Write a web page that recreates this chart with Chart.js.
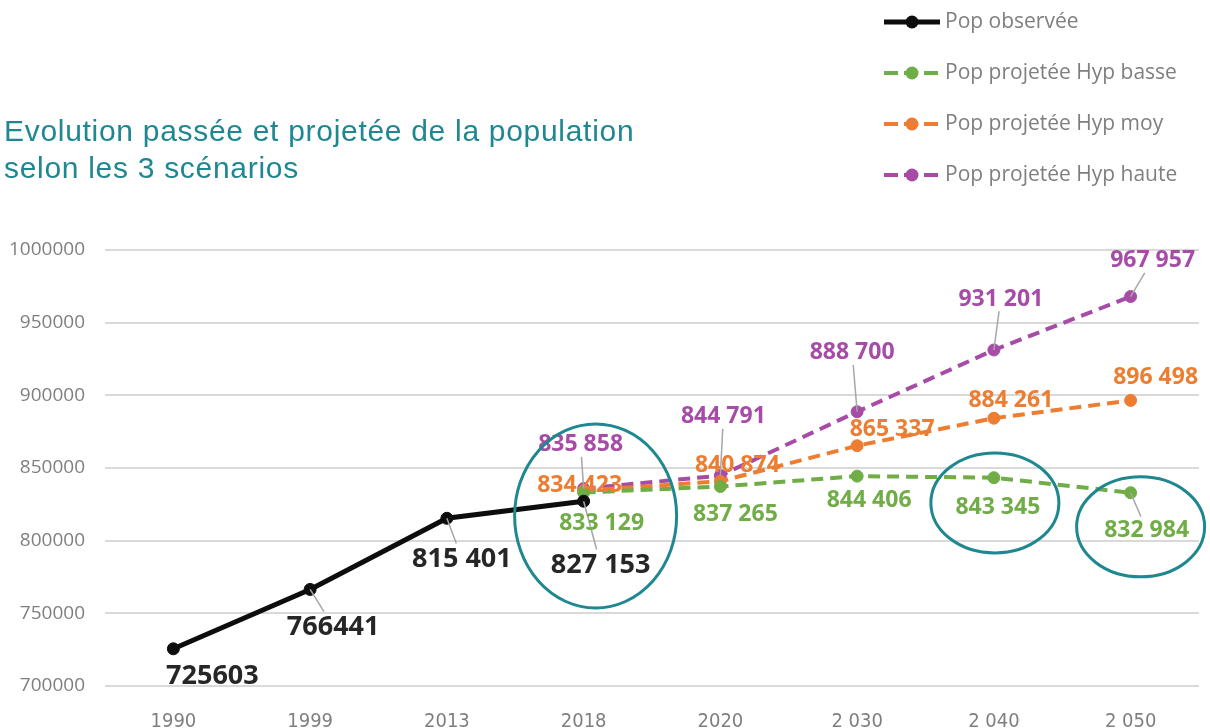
<!DOCTYPE html>
<html lang="fr">
<head>
<meta charset="utf-8">
<script src="https://cdn.jsdelivr.net/npm/chart.js@4.4.0/dist/chart.umd.min.js"></script>
<style>
  html, body { margin: 0; padding: 0; background: #fff; overflow: hidden; }
  #cadre { width: 1210px; height: 728px; }
</style>
</head>
<body>
<div id="cadre"><canvas id="graf-pop" width="1210" height="728"></canvas></div>
<script>
// données
const annees = ["1990", "1999", "2013", "2018", "2020", "2 030", "2 040", "2 050"];
const popObservee = [725603, 766441, 815401, 827153, null, null, null, null];
const popBasse = [null, null, null, 833129, 837265, 844406, 843345, 832984];
const popMoy = [null, null, null, 834423, 840874, 865337, 884261, 896498];
const popHaute = [null, null, null, 835858, 844791, 888700, 931201, 967957];
const etiquettesObservee = ["725603", "766441", "815 401", "827 153"];
const nomsSeries = ["Pop observée", "Pop projetée Hyp basse", "Pop projetée Hyp moy", "Pop projetée Hyp haute"];
const titre = ["Evolution passée et projetée de la population", "selon les 3 scénarios"];

const couleurs = ["#0d0d0d", "#70ad47", "#ed7d31", "#a64ca6"];
const TEAL = "#1f8790";

// décalages des étiquettes (dx, dy en px depuis le point, trait de rappel)
const decalages = [
  [[39, 27, false], [23, 37, true], [15, 40, true], [17, 63, true]],
  [null, null, null, [18, 30, false], [15, 27, false], [12, 23, false], [4, 29, false], [16, 37, true]],
  [null, null, null, [-4, -6, false], [17, -17, false], [35, -17, false], [17, -19, false], [25, -24, false]],
  [null, null, null, [-3, -45, true], [3, -60, true], [-5, -60, true], [7, -52, true], [22, -37, true]]
];

// cercles de mise en évidence (index de catégorie, valeur au centre)
const cercles = [
  { idx: 3, dx: 12, val: 817000, rx: 81, ry: 92 },
  { idx: 6, dx: 1, val: 826000, rx: 64, ry: 50 },
  { idx: 7, dx: 10, val: 809500, rx: 64, ry: 50 }
];

const fmt = v => String(v).replace(/\B(?=(\d{3})+(?!\d))/g, " ");

const etiquettesPlugin = {
  id: "etiquettes",
  afterDatasetsDraw(chart) {
    const ctx = chart.ctx;
    ctx.save();
    chart.data.datasets.forEach((ds, di) => {
      const meta = chart.getDatasetMeta(di);
      meta.data.forEach((pt, i) => {
        const v = ds.data[i];
        const dec = decalages[di][i];
        if (v == null || !dec) return;
        const txt = di === 0 ? etiquettesObservee[i] : fmt(v);
        const size = di === 0 ? 27 : 23;
        ctx.font = "bold " + size + "px 'Open Sans'";
        const w = ctx.measureText(txt).width;
        const h = size * 0.72;
        const cx = pt.x + dec[0], cy = pt.y + dec[1];
        if (dec[2]) {
          // trait de rappel jusqu'au bord de l'étiquette
          const dx = pt.x - cx, dy = pt.y - cy;
          const t = Math.min(Math.abs((w / 2 + 3) / (dx || 1e-6)), Math.abs((h / 2 + 5) / (dy || 1e-6)));
          ctx.strokeStyle = "#a6a6a6";
          ctx.lineWidth = 1.5;
          ctx.beginPath();
          ctx.moveTo(pt.x, pt.y);
          ctx.lineTo(cx + dx * t, cy + dy * t);
          ctx.stroke();
        }
        ctx.fillStyle = di === 0 ? "#262626" : couleurs[di];
        ctx.textAlign = "center";
        ctx.textBaseline = "middle";
        ctx.fillText(txt, cx, cy + 1);
      });
    });

    const xs = chart.scales.x, ys = chart.scales.y;
    ctx.strokeStyle = TEAL;
    ctx.lineWidth = 3;
    cercles.forEach(c => {
      ctx.beginPath();
      ctx.ellipse(xs.getPixelForValue(c.idx) + c.dx, ys.getPixelForValue(c.val), c.rx, c.ry, 0, 0, Math.PI * 2);
      ctx.stroke();
    });
    ctx.restore();
  },
  afterDraw(chart) {
    const ctx = chart.ctx;
    ctx.save();
    // titre
    ctx.fillStyle = TEAL;
    ctx.font = "30px 'Liberation Sans', Arial";
    ctx.letterSpacing = "0.7px";
    ctx.textAlign = "left";
    ctx.textBaseline = "alphabetic";
    ctx.fillText(titre[0], 4, 141);
    ctx.fillText(titre[1], 4, 178);
    ctx.letterSpacing = "0px";

    // légende
    nomsSeries.forEach((nom, i) => {
      const y = 22 + i * 51;
      ctx.strokeStyle = couleurs[i];
      ctx.lineWidth = i === 0 ? 5 : 4;
      ctx.setLineDash(i === 0 ? [] : [14, 6]);
      ctx.beginPath();
      ctx.moveTo(884, y);
      ctx.lineTo(940, y);
      ctx.stroke();
      ctx.setLineDash([]);
      ctx.fillStyle = couleurs[i];
      ctx.beginPath();
      ctx.arc(912, y, 6.5, 0, Math.PI * 2);
      ctx.fill();
      ctx.fillStyle = "#7f7f7f";
      ctx.font = "21px 'Open Sans'";
      ctx.textBaseline = "middle";
      ctx.fillText(nom, 945, y);
    });
    ctx.restore();
  }
};

function serie(label, data, i) {
  return {
    label: label,
    data: data,
    borderColor: couleurs[i],
    backgroundColor: couleurs[i],
    pointBackgroundColor: couleurs[i],
    pointBorderColor: couleurs[i],
    borderWidth: i === 0 ? 5 : 4,
    borderDash: i === 0 ? [] : [12, 7],
    pointRadius: 6,
    pointBorderWidth: 1,
    tension: 0,
    fill: false
  };
}

const grafico = new Chart(document.getElementById("graf-pop"), {
  type: "line",
  data: {
    labels: annees,
    datasets: [
      serie(nomsSeries[0], popObservee, 0),
      serie(nomsSeries[1], popBasse, 1),
      serie(nomsSeries[2], popMoy, 2),
      serie(nomsSeries[3], popHaute, 3)
    ]
  },
  options: {
    responsive: false,
    animation: false,
    layout: { padding: { top: 250, right: 11, left: 0, bottom: 0 } },
    plugins: {
      legend: { display: false },
      title: { display: false },
      tooltip: { enabled: false }
    },
    scales: {
      x: {
        offset: true,
        grid: { display: false },
        border: { display: false },
        ticks: {
          color: "#7f7f7f",
          font: { family: "'Liberation Sans Narrow', 'DejaVu Sans Condensed', sans-serif", size: 20 },
          padding: 16,
          maxRotation: 0
        },
        afterFit(s) { s.height = 42; }
      },
      y: {
        min: 700000,
        max: 1000000,
        border: { display: false },
        grid: { color: "#d9d9d9", lineWidth: 2, drawTicks: false },
        ticks: {
          stepSize: 50000,
          callback: v => String(v),
          color: "#7f7f7f",
          font: { family: "'Open Sans'", size: 19 },
          padding: 20
        },
        afterFit(s) { s.width = 105; }
      }
    }
  },
  plugins: [etiquettesPlugin]
});
</script>
</body>
</html>
